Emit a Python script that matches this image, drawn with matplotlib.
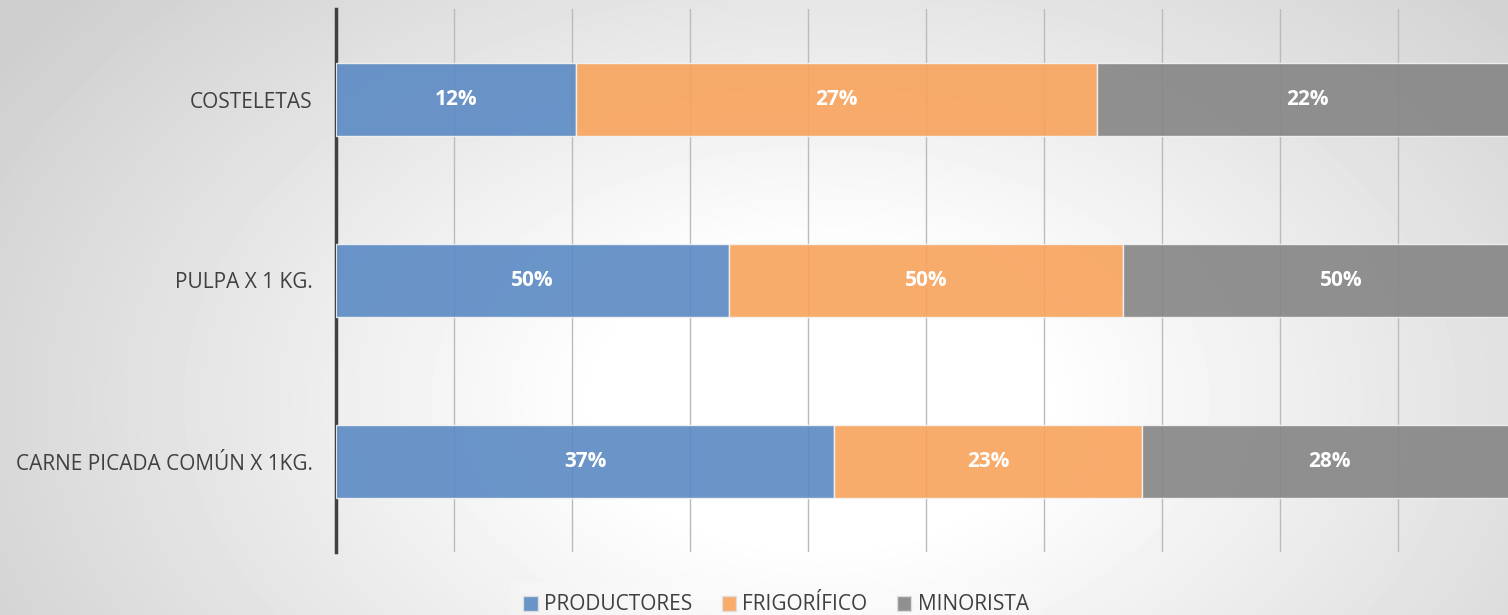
import numpy as np
import matplotlib
matplotlib.use('Agg')
import matplotlib.pyplot as plt
from matplotlib.patches import Patch

plt.rcParams['font.family'] = ['Open Sans', 'DejaVu Sans']

# data (bottom to top)
categories = ['CARNE PICADA COMÚN X 1KG.', 'PULPA X 1 KG.', 'COSTELETAS']
productores = [42.2, 33.3, 20.3]
frigorifico = [26.1, 33.4, 44.2]
minorista = [31.7, 36.9, 35.6]
lbl_productores = ['37%', '50%', '12%']
lbl_frigorifico = ['23%', '50%', '27%']
lbl_minorista = ['28%', '50%', '22%']
series_names = ['PRODUCTORES', 'FRIGORÍFICO', 'MINORISTA']
colors = ['#5b8ac4', '#f8a35c', '#858585']

fig = plt.figure(figsize=(15.08, 6.15), dpi=100)

# radial gradient background
bg = fig.add_axes([0, 0, 1, 1], zorder=-10)
yy, xx = np.mgrid[0:615, 0:1508]
d = np.sqrt(((xx - 820) / 1000.0) ** 2 + ((yy - 400) / 650.0) ** 2)
shade = 1.0 - 0.19 * np.clip((d - 0.22) / 0.75, 0, 1)
bg.imshow(shade, cmap='gray', vmin=0, vmax=1, aspect='auto', interpolation='bilinear')
bg.axis('off')

ax = fig.add_axes([336 / 1508, 63 / 615, 1 - 336 / 1508, 543 / 615])
ax.set_facecolor('none')

y = np.arange(len(categories))
left = np.zeros(len(categories))
for vals, lbls, col, name in zip([productores, frigorifico, minorista],
                                 [lbl_productores, lbl_frigorifico, lbl_minorista],
                                 colors, series_names):
    ax.barh(y, vals, left=left, height=0.4, color=col, alpha=0.9,
            edgecolor='#f4f4f4', linewidth=1, label=name, zorder=3)
    for yi, v, l0, t in zip(y, vals, left, lbls):
        ax.text(l0 + v / 2, yi, t, ha='center', va='center', color='white',
                fontsize=15, fontweight='bold', zorder=5)
    left = left + np.array(vals)

ax.set_xlim(0, (1508 - 336) / 11.8)
ax.set_ylim(-0.5, 2.5)
ax.set_xticks(np.arange(10, 100, 10))
ax.xaxis.grid(True, color='#bbbbbb', linewidth=1, zorder=1)
ax.set_axisbelow(True)
ax.tick_params(axis='x', length=0, labelbottom=False)
ax.tick_params(axis='y', length=0, pad=17, labelsize=15, labelcolor='#404040')
ax.set_yticks(y)
ax.set_yticklabels(categories)
for s in ['top', 'right', 'bottom']:
    ax.spines[s].set_visible(False)
ax.spines['left'].set_color('#404040')
ax.spines['left'].set_linewidth(2.5)

handles = [Patch(facecolor=c, alpha=0.9, edgecolor='#e0e0e0') for c in colors]
leg = fig.legend(handles, series_names, loc='center', bbox_to_anchor=(776 / 1508, 1 - 605 / 615),
                 ncol=3, frameon=True, fontsize=15, handlelength=0.7, handleheight=0.7,
                 handletextpad=0.3, columnspacing=1.4, borderpad=0.6)
leg.get_frame().set_facecolor('white')
leg.get_frame().set_alpha(0.2)
leg.get_frame().set_edgecolor('none')
leg.get_frame().set_boxstyle('square', pad=0)
for t in leg.get_texts():
    t.set_color('#404040')

fig.savefig('out.png', dpi=100)
